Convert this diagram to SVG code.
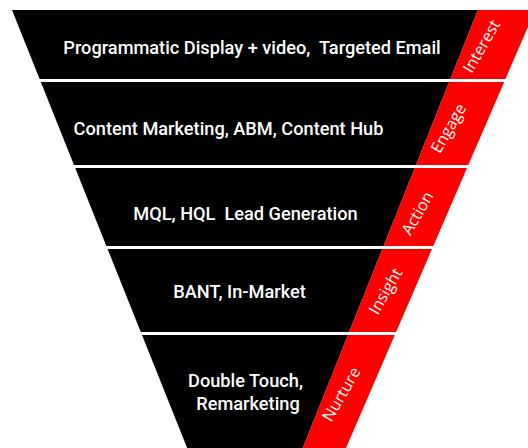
<svg xmlns="http://www.w3.org/2000/svg" width="528" height="448" viewBox="0 0 528 448">
  <style>
    .band { fill: #000000; }
    .stage { fill: #ff0000; }
    .txt { font-family: Roboto, "Liberation Sans", sans-serif; font-weight: 500; font-size: 18.2px; fill: #ffffff; text-anchor: middle; white-space: pre; }
    .lbl { font-family: "Open Sans", "Liberation Sans", sans-serif; font-size: 16px; fill: #ffffff; text-anchor: middle; dominant-baseline: central; }
  </style>
  <rect x="0" y="0" width="528" height="448" fill="#ffffff"/>

  <!-- Stage 1: Interest -->
  <g id="interest">
    <polygon class="band" points="12,10 478,10 450.4,79 39.6,79"/>
    <polygon class="stage" points="478,10 535.2,10 505.4,79 450.4,79"/>
    <text class="txt" x="252" y="54">Programmatic Display + video,  Targeted Email</text>
    <text class="lbl" transform="translate(481,46) rotate(-60)">Interest</text>
  </g>

  <!-- Stage 2: Engage -->
  <g id="engage">
    <polygon class="band" points="40.8,82 449.2,82 416,165 74,165"/>
    <polygon class="stage" points="449.2,82 504.2,82 468.3,165 416,165"/>
    <text class="txt" x="228.5" y="135">Content Marketing, ABM, Content Hub</text>
    <text class="lbl" transform="translate(448,128) rotate(-60)">Engage</text>
  </g>

  <!-- Stage 3: Action -->
  <g id="action">
    <polygon class="band" points="75.2,168 414.8,168 383.6,246 106.4,246"/>
    <polygon class="stage" points="414.8,168 467,168 433.3,246 383.6,246"/>
    <text class="txt" x="245.5" y="220">MQL, HQL  Lead Generation</text>
    <text class="lbl" transform="translate(417,213) rotate(-60)">Action</text>
  </g>

  <!-- Stage 4: Insight -->
  <g id="insight">
    <polygon class="band" points="107.6,249 382.4,249 349.2,332 140.8,332"/>
    <polygon class="stage" points="382.4,249 432,249 396.1,332 349.2,332"/>
    <text class="txt" x="239.5" y="298">BANT, In-Market</text>
    <text class="lbl" transform="translate(385,291) rotate(-60)">Insight</text>
  </g>

  <!-- Stage 5: Nurture -->
  <g id="nurture">
    <polygon class="band" points="142,335 348,335 302.8,448 187.2,448"/>
    <polygon class="stage" points="348,335 394.8,335 346,448 302.8,448"/>
    <text class="txt" x="245.5" y="387">Double Touch,</text>
    <text class="txt" x="248" y="410">Remarketing</text>
    <text class="lbl" transform="translate(341,394) rotate(-60)">Nurture</text>
  </g>

  <!-- no connectors: stages are stacked directly -->
  <g id="connectors"/>
</svg>
